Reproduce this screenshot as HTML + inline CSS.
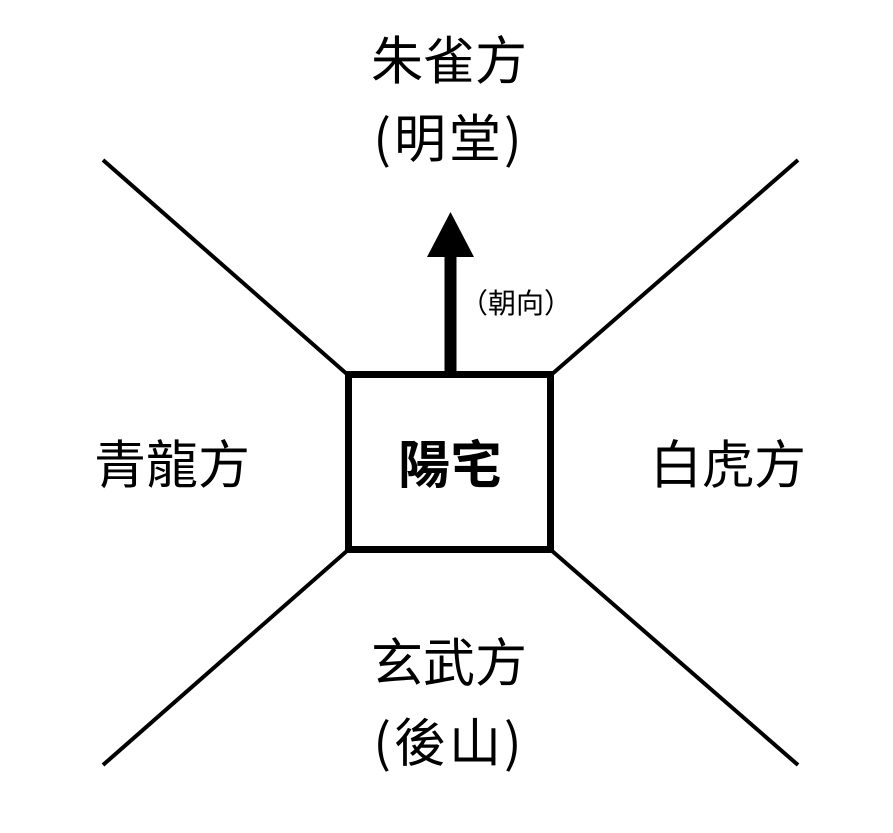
<!DOCTYPE html>
<html><head><meta charset="utf-8"><style>
body{margin:0;background:#fff;}
svg text{font-family:"Noto Sans CJK TC","Noto Sans CJK JP",sans-serif;fill:#000;text-anchor:middle;dominant-baseline:central;}
</style></head><body>
<svg width="893" height="828" viewBox="0 0 893 828" xmlns="http://www.w3.org/2000/svg">
<rect width="893" height="828" fill="#fff"/>
<g stroke="#000" stroke-width="4">
<line x1="103" y1="160" x2="348" y2="375"/>
<line x1="798" y1="160" x2="551" y2="375"/>
<line x1="103" y1="765" x2="348" y2="550"/>
<line x1="798" y1="765" x2="551" y2="550"/>
</g>
<rect x="348.5" y="374.5" width="202" height="175" fill="#fff" stroke="#000" stroke-width="7"/>
<rect x="444.5" y="250" width="12" height="126" fill="#000"/>
<polygon points="450.5,212 427,257 474,257" fill="#000"/>
<text x="449" y="57" font-size="52">朱雀方</text>
<text x="449" y="135" font-size="52" letter-spacing="3">(明堂)</text>
<text x="516" y="302" font-size="28">（朝向）</text>
<text x="172" y="461" font-size="52">青龍方</text>
<text x="728" y="461" font-size="52">白虎方</text>
<text x="450" y="461" font-size="52" font-weight="bold">陽宅</text>
<text x="449" y="659" font-size="52">玄武方</text>
<text x="449" y="739" font-size="52" letter-spacing="3">(後山)</text>
</svg>
</body></html>
